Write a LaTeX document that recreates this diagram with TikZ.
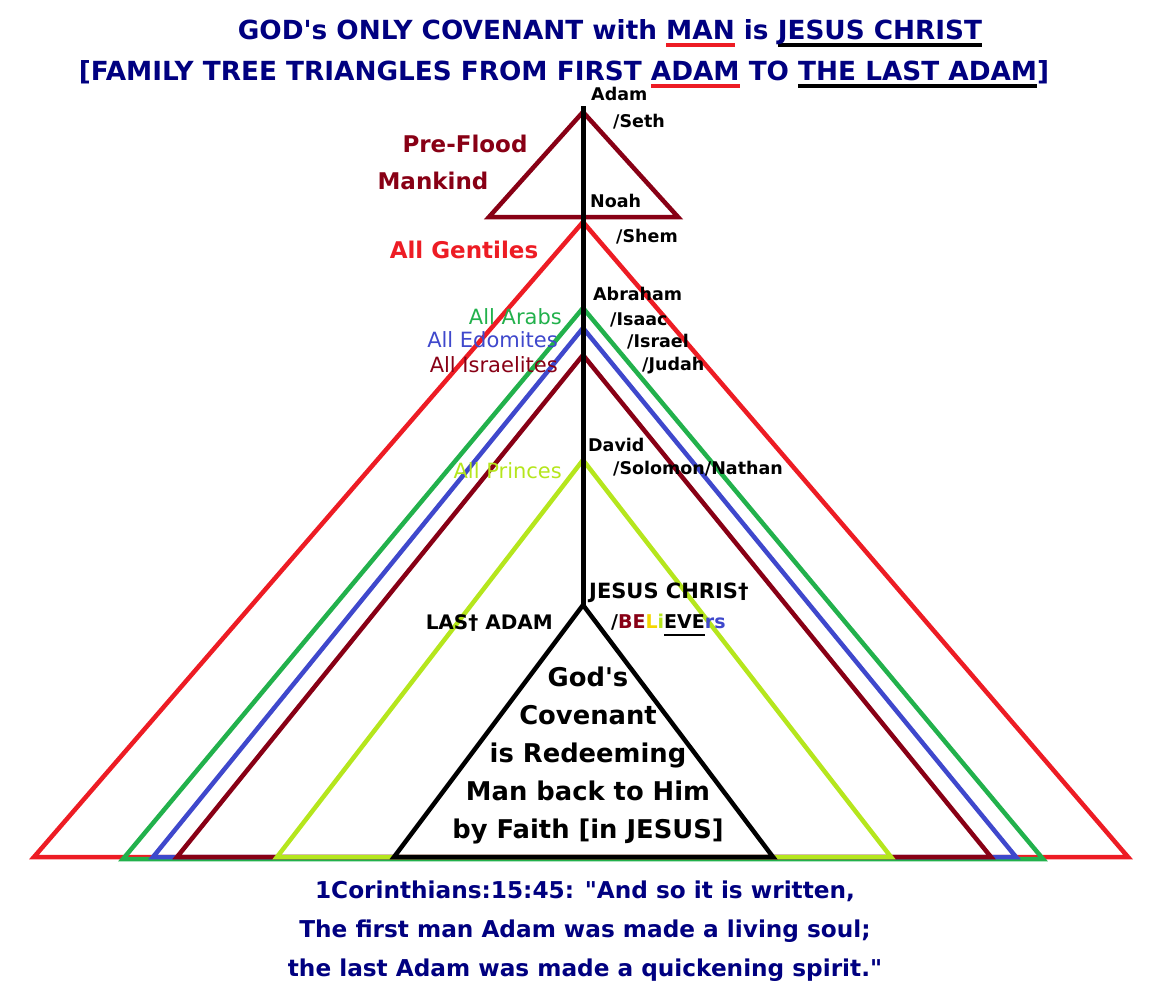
\documentclass[tikz,border=0pt]{standalone}
\usepackage{fontspec}
\setmainfont{DejaVu Sans}[Ligatures=TeXOff]
\usepackage{tikz}
\definecolor{navyblue}{RGB}{0,0,128}
\definecolor{paintred}{RGB}{237,28,36}
\definecolor{paintgreen}{RGB}{34,177,76}
\definecolor{paintblue}{RGB}{63,72,204}
\definecolor{darkred}{RGB}{136,0,21}
\definecolor{lime}{RGB}{181,230,29}
\definecolor{gold}{RGB}{245,215,0}
\newcommand{\ulbar}[3][4pt]{\setbox0\hbox{#3}\rlap{\color{#2}\rule[-8pt]{\wd0}{#1}}#3}
\begin{document}
\begin{tikzpicture}[x=1pt, y=-1pt,
          tri/.style = {line width=4.5pt},
          stem/.style = {line width=5pt, black},
          who/.style = {font=\bfseries\fontsize{17.5}{20}\selectfont, inner sep=0pt, anchor=base west},
          clan/.style = {font=\fontsize{21}{23}\selectfont, inner sep=0pt, anchor=base east},
          bigtxt/.style = {font=\bfseries\fontsize{23}{26}\selectfont, inner sep=0pt, anchor=base},
          covtxt/.style = {font=\bfseries\fontsize{25.8}{28}\selectfont, inner sep=0pt, anchor=base},
          versetxt/.style = {font=\bfseries\fontsize{23.2}{26}\selectfont, navyblue, inner sep=0pt, anchor=base},
          headline/.style = {font=\bfseries\fontsize{26.3}{28}\selectfont, navyblue, inner sep=0pt, anchor=base}]
        \useasboundingbox (0,0) rectangle (1171,1001);
        % title
        \node[headline] (head1) at (610,39) {GOD's ONLY COVENANT with \ulbar{paintred}{MAN} is \ulbar{black}{JESUS CHRIST}};
        \node[headline] (head2) at (564,80) {[FAMILY TREE TRIANGLES FROM FIRST \ulbar{paintred}{ADAM} TO \ulbar{black}{THE LAST ADAM}]};
        % triangles, outer to inner
        \coordinate (pf-top) at (583,112);
        \coordinate (pf-l) at (489,217);
        \coordinate (pf-r) at (678,217);
        \draw[tri, darkred] (pf-top) -- (pf-l) -- (pf-r) -- cycle;
        \foreach \t/\c/\ay/\lx/\rx/\by in {gen/paintred/222/34/1128/857,
                 arab/paintgreen/308/123/1043/859,
                 edom/paintblue/328/153/1016/857,
                 isr/darkred/355/177/991/857,
                 prn/lime/460/277/891/857,
                 jc/black/605/394/773/857}
                 {
                   \coordinate (\t-top) at (583,\ay);
                   \coordinate (\t-l) at (\lx,\by);
                   \coordinate (\t-r) at (\rx,\by);
                   \draw[tri, \c] (\t-top) -- (\t-l) -- (\t-r) -- cycle;
                 }
        \coordinate (stem-top) at (583,106);
        \draw[stem] (stem-top) -- (jc-top);
        % names on the line
        \node[who] (adam) at (591,100) {Adam};
        \node[who] (seth) at (613,127) {/Seth};
        \node[who] (noah) at (590,207) {Noah};
        \node[who] (shem) at (616,242) {/Shem};
        \node[who] (abraham) at (593,300) {Abraham};
        \node[who] (isaac) at (610,325) {/Isaac};
        \node[who] (israel) at (627,347) {/Israel};
        \node[who] (judah) at (642,370) {/Judah};
        \node[who] (david) at (588,451) {David};
        \node[who] (solomon) at (613,474) {/Solomon/Nathan};
        \node[who, font=\bfseries\fontsize{21}{23}\selectfont] (jesus) at (589,598) {JESUS CHRIS\textdagger};
        \node[who, font=\bfseries\fontsize{19}{21}\selectfont] (believers) at (611,628) {/{\color{darkred}BE}{\color{gold}L}{\color{lime}i}\ulbar[2pt]{black}{EVE}{\color{paintblue}rs}};
        \node[who, font=\bfseries\fontsize{20}{22}\selectfont, anchor=base east] (lastadam) at (553,629) {LAS\textdagger{} ADAM};
        % groups
        \node[bigtxt, darkred] (preflood) at (465,152) {Pre-Flood};
        \node[bigtxt, darkred] (mankind) at (433,189) {Mankind};
        \node[bigtxt, paintred] (gentiles) at (464,258) {All Gentiles};
        \node[clan, paintgreen] (arabs) at (562,324) {All Arabs};
        \node[clan, paintblue] (edomites) at (558,347) {All Edomites};
        \node[clan, darkred] (israelites) at (558,372) {All Israelites};
        \node[clan, lime] (princes) at (562,478) {All Princes};
        % inside the last triangle
        \foreach \txt [count=\i] in {God's, Covenant, is Redeeming, Man back to Him, {by Faith [in JESUS]}}
                 {
                   \node[covtxt] (cov\i) at (588,648+38*\i) {\txt};
                 }
        % verse
        \foreach \txt [count=\i] in {{1Corinthians:15:45: "And so it is written,},
                 {The first man Adam was made a living soul;},
                 {the last Adam was made a quickening spirit."}}
                 {
                   \node[versetxt] (verse\i) at (585,859+39*\i) {\txt};
                 }
      \end{tikzpicture}
\end{document}
